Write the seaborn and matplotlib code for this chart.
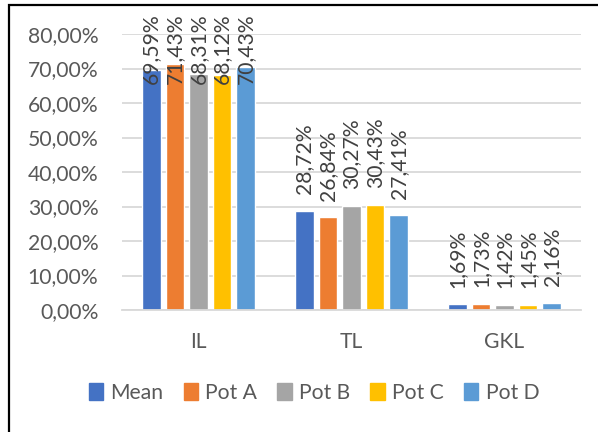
import matplotlib
matplotlib.use("Agg")
import matplotlib.pyplot as plt
import matplotlib.patches as mpatches
import seaborn as sns
import pandas as pd

# Share of each leaf class per pot, in percent
categories = ["IL", "TL", "GKL"]
series = ["Mean", "Pot A", "Pot B", "Pot C", "Pot D"]
mean_vals = [69.59, 28.72, 1.69]
pot_a_vals = [71.43, 26.84, 1.73]
pot_b_vals = [68.31, 30.27, 1.42]
pot_c_vals = [68.12, 30.43, 1.45]
pot_d_vals = [70.43, 27.41, 2.16]
y_ticks = [0, 10, 20, 30, 40, 50, 60, 70, 80]
colors = ["#4472C4", "#ED7D31", "#A5A5A5", "#FFC000", "#5B9BD5"]

values = [mean_vals, pot_a_vals, pot_b_vals, pot_c_vals, pot_d_vals]
rows = []
for s, vals in zip(series, values):
    for c, v in zip(categories, vals):
        rows.append({"category": c, "series": s, "value": v})
df = pd.DataFrame(rows)

sns.set_theme(style="white")
plt.rcParams["font.family"] = ["Lato", "DejaVu Sans"]

W, H = 598, 432
fig = plt.figure(figsize=(W / 100, H / 100), dpi=100)
ax = fig.add_axes([122 / W, 122 / H, (581 - 122) / W, (310 - 34) / H])

sns.barplot(data=df, x="category", y="value", hue="series", order=categories,
            hue_order=series, palette=colors, width=0.77, gap=0.21,
            saturation=1, legend=False, ax=ax)

ax.set_ylim(0, 80)
ax.set_xlim(-0.5, 2.5)
ax.set_yticks(y_ticks)
ax.set_yticklabels([f"{t:.2f}".replace(".", ",") + "%" for t in y_ticks])
ax.yaxis.grid(True, color="#D9D9D9", linewidth=1.3)
ax.set_axisbelow(True)
for side in ["left", "right", "top"]:
    ax.spines[side].set_visible(False)
ax.spines["bottom"].set_color("#D9D9D9")
ax.spines["bottom"].set_linewidth(1.3)
ax.set_xlabel("")
ax.set_ylabel("")
fs = 15.2
ax.tick_params(axis="y", length=0, pad=17, labelsize=fs, labelcolor="#595959")
ax.tick_params(axis="x", length=0, pad=16, labelsize=fs, labelcolor="#595959")

# Value labels, rotated, above each bar
texts = []
for container, vals in zip(ax.containers, values):
    for bar, v in zip(container, vals):
        x = bar.get_x() + bar.get_width() / 2
        t = ax.annotate(f"{v:.2f}".replace(".", ",") + "%", xy=(x, v),
                        xytext=(0, 12), textcoords="offset points",
                        rotation=90, ha="center", va="bottom",
                        fontsize=fs, color="#404040", annotation_clip=False)
        texts.append(t)

# Keep labels inside the chart area: push tall ones down
fig.canvas.draw()
renderer = fig.canvas.get_renderer()
top_limit = H - 13
for t in texts:
    bb = t.get_window_extent(renderer)
    if bb.y1 > top_limit:
        dx, dy = t.xyann
        t.xyann = (dx, dy - (bb.y1 - top_limit) * 72 / fig.dpi)

handles = [mpatches.Patch(color=c, label=s) for s, c in zip(series, colors)]
fig.legend(handles=handles, loc="center", bbox_to_anchor=(314 / W, (H - 393) / H),
           ncol=5, frameon=False, fontsize=fs, handlelength=0.68,
           handleheight=0.85, handletextpad=0.35, columnspacing=0.95,
           labelcolor="#595959")

# Outer frame
fig.patches.append(mpatches.Rectangle((9 / W, -0.1), 1.2, (H - 5) / H + 0.1,
                                      transform=fig.transFigure, fill=False,
                                      edgecolor="black", linewidth=1.6))

fig.savefig("out.png", dpi=100)
